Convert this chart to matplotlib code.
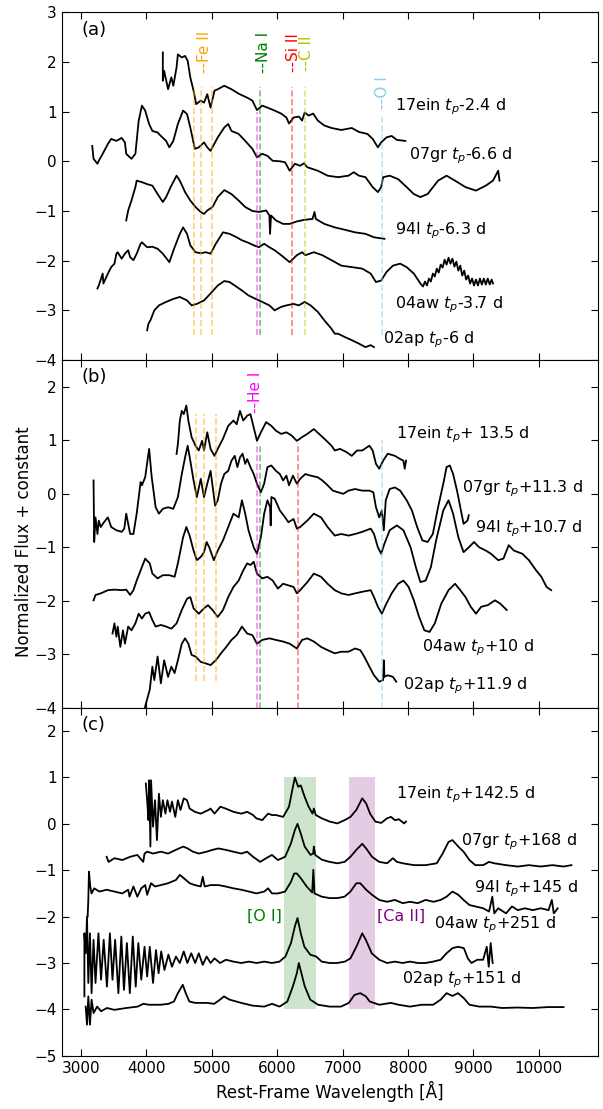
#!/usr/bin/env python3
"""Spectral comparison of SN 2017ein with 07gr, 94I, 04aw and 02ap at three epochs."""

import matplotlib.pyplot as plt

# ---------------- panel (a): pre-maximum ----------------
A_17EIN_WAVE = [4250, 4250, 4270, 4330, 4380, 4410, 4460, 4480, 4540, 4590,
                4630, 4670, 4720, 4760, 4830, 4880, 4930, 4980, 5040, 5090,
                5190, 5300, 5410, 5540, 5620, 5690, 5770, 5850, 5960, 6060,
                6140, 6180, 6250, 6330, 6380, 6420, 6480, 6550, 6620, 6720,
                6830, 6980, 7140, 7250, 7380, 7460, 7540, 7590, 7670, 7750,
                7830, 7960]
A_17EIN_FLUX = [2.19, 1.62, 1.82, 1.45, 1.69, 1.52, 1.89, 2.15, 2.09, 2.12,
                2.02, 1.69, 1.42, 1.15, 1.22, 1.18, 1.35, 1.08, 1.42, 1.45,
                1.52, 1.45, 1.36, 1.28, 1.22, 1.03, 1.12, 1.08, 1.02, 0.96,
                0.88, 0.76, 0.88, 0.90, 0.82, 0.98, 0.92, 0.96, 0.82, 0.72,
                0.67, 0.63, 0.67, 0.59, 0.55, 0.45, 0.28, 0.38, 0.48, 0.51,
                0.43, 0.41]

A_07GR_WAVE = [3170, 3190, 3250, 3270, 3330, 3410, 3460, 3540, 3620, 3670,
               3690, 3770, 3830, 3880, 3930, 3980, 4040, 4090, 4170, 4220,
               4300, 4350, 4410, 4480, 4560, 4620, 4670, 4740, 4800, 4880,
               4930, 4980, 5090, 5190, 5250, 5300, 5410, 5510, 5620, 5690,
               5770, 5850, 5930, 6040, 6120, 6190, 6270, 6350, 6410, 6460,
               6620, 6770, 6930, 7090, 7170, 7250, 7350, 7460, 7540, 7590,
               7620, 7720, 7850, 7980, 8090, 8190, 8300, 8460, 8590, 8720,
               8880, 9040, 9190, 9300, 9380, 9400]
A_07GR_FLUX = [0.31, 0.05, -0.05, 0.01, 0.15, 0.35, 0.45, 0.41, 0.47, 0.38,
               0.15, 0.05, 0.15, 0.81, 1.12, 1.02, 0.75, 0.61, 0.58, 0.51,
               0.41, 0.28, 0.41, 0.75, 1.02, 0.95, 0.68, 0.25, 0.28, 0.38,
               0.28, 0.21, 0.48, 0.68, 0.75, 0.61, 0.55, 0.41, 0.25, 0.08,
               0.15, 0.11, 0.01, 0.00, -0.02, -0.19, -0.05, -0.09, -0.04, -0.12,
               -0.19, -0.29, -0.32, -0.29, -0.22, -0.29, -0.32, -0.52, -0.62, -0.52,
               -0.32, -0.29, -0.36, -0.52, -0.66, -0.72, -0.66, -0.39, -0.29, -0.39,
               -0.52, -0.59, -0.49, -0.39, -0.19, -0.39]

A_94I_WAVE = [3690, 3720, 3770, 3830, 3850, 3930, 4010, 4090, 4170, 4250,
              4300, 4380, 4460, 4510, 4590, 4670, 4750, 4830, 4880, 4930,
              5010, 5090, 5190, 5300, 5410, 5510, 5620, 5720, 5830, 5880,
              5890, 5905, 5980, 6090, 6190, 6300, 6410, 6540, 6570, 6590,
              6720, 6880, 7040, 7190, 7350, 7480, 7640]
A_94I_FLUX = [-1.19, -0.99, -0.79, -0.52, -0.39, -0.42, -0.46, -0.49, -0.66, -0.82,
              -0.72, -0.49, -0.29, -0.39, -0.62, -0.79, -0.92, -1.02, -1.06, -0.99,
              -0.92, -0.72, -0.58, -0.66, -0.79, -0.92, -1.00, -1.02, -0.99, -1.09,
              -1.46, -1.09, -1.19, -1.26, -1.26, -1.21, -1.18, -1.16, -1.02, -1.16,
              -1.26, -1.33, -1.38, -1.43, -1.46, -1.53, -1.56]

A_04AW_WAVE = [3250, 3270, 3330, 3340, 3410, 3460, 3510, 3540, 3560, 3620,
               3670, 3720, 3750, 3800, 3850, 3910, 3930, 4010, 4090, 4170,
               4250, 4350, 4430, 4510, 4560, 4620, 4670, 4750, 4830, 4910,
               4980, 5060, 5170, 5270, 5380, 5460, 5540, 5640, 5720, 5800,
               5880, 5960, 6060, 6190, 6300, 6380, 6430, 6560, 6690, 6830,
               6980, 7140, 7300, 7430, 7510, 7590, 7670, 7770, 7880, 7980,
               8090, 8190, 8230, 8260, 8290, 8320, 8350, 8380, 8410, 8440,
               8470, 8500, 8530, 8560, 8590, 8620, 8650, 8680, 8710, 8740,
               8770, 8800, 8830, 8860, 8890, 8920, 8950, 8980, 9010, 9040,
               9070, 9100, 9130, 9160, 9190, 9220, 9250, 9280, 9300]
A_04AW_FLUX = [-2.56, -2.50, -2.26, -2.46, -2.26, -2.13, -2.06, -1.86, -1.83, -1.96,
               -1.86, -1.79, -1.93, -1.99, -1.86, -1.66, -1.63, -1.73, -1.72, -1.76,
               -1.86, -2.03, -1.73, -1.46, -1.33, -1.46, -1.69, -1.83, -1.85, -1.83,
               -1.86, -1.66, -1.43, -1.46, -1.53, -1.59, -1.63, -1.69, -1.73, -1.66,
               -1.73, -1.79, -1.89, -2.03, -1.89, -1.83, -1.89, -1.83, -1.89, -1.99,
               -2.10, -2.13, -2.16, -2.26, -2.43, -2.40, -2.23, -2.10, -2.06, -2.13,
               -2.26, -2.46, -2.52, -2.42, -2.50, -2.36, -2.42, -2.26, -2.32, -2.16,
               -2.24, -2.08, -2.14, -1.98, -2.08, -1.94, -2.06, -1.96, -2.12, -2.02,
               -2.20, -2.10, -2.30, -2.20, -2.38, -2.30, -2.46, -2.36, -2.50, -2.38,
               -2.50, -2.36, -2.48, -2.36, -2.48, -2.36, -2.48, -2.38, -2.46]

A_02AP_WAVE = [4010, 4030, 4060, 4120, 4190, 4300, 4410, 4510, 4620, 4690,
               4770, 4880, 4980, 5090, 5190, 5270, 5350, 5460, 5560, 5670,
               5770, 5880, 5960, 6060, 6140, 6250, 6330, 6420, 6510, 6620,
               6720, 6830, 6880, 6930, 7040, 7140, 7250, 7350, 7430, 7480]
A_02AP_FLUX = [-3.40, -3.27, -3.20, -3.00, -2.90, -2.83, -2.77, -2.73, -2.80, -2.90,
               -2.87, -2.80, -2.66, -2.50, -2.41, -2.43, -2.50, -2.60, -2.70, -2.77,
               -2.83, -2.90, -3.00, -2.93, -2.90, -2.87, -2.90, -2.83, -2.90, -3.03,
               -3.20, -3.37, -3.47, -3.47, -3.54, -3.60, -3.67, -3.74, -3.70, -3.74]

# ---------------- panel (b): post-maximum ----------------
B_17EIN_WAVE = [4460, 4480, 4510, 4540, 4570, 4610, 4640, 4690, 4750, 4800,
                4850, 4880, 4930, 4980, 5040, 5090, 5170, 5250, 5330, 5380,
                5430, 5480, 5540, 5590, 5640, 5690, 5750, 5830, 5910, 5980,
                6060, 6140, 6220, 6300, 6380, 6460, 6560, 6640, 6720, 6830,
                6880, 6960, 7060, 7140, 7220, 7300, 7410, 7460, 7510, 7560,
                7620, 7690, 7800, 7880, 7930, 7950, 7970]
B_17EIN_FLUX = [0.745, 0.93, 1.37, 1.55, 1.49, 1.65, 1.37, 1.06, 0.90, 0.81,
                0.99, 0.81, 1.15, 0.84, 0.71, 0.84, 1.03, 1.27, 1.37, 1.30,
                1.55, 1.37, 1.46, 1.49, 1.24, 0.99, 1.15, 1.34, 1.27, 1.18,
                1.12, 1.15, 1.09, 0.99, 1.06, 1.12, 1.21, 1.12, 1.03, 0.90,
                0.81, 0.84, 0.78, 0.71, 0.81, 0.81, 0.90, 0.81, 0.56, 0.47,
                0.62, 0.75, 0.71, 0.65, 0.62, 0.47, 0.62]

B_07GR_WAVE = [3190, 3200, 3220, 3250, 3270, 3300, 3350, 3410, 3460, 3540,
               3620, 3660, 3690, 3750, 3800, 3850, 3910, 3930, 3980, 4040,
               4080, 4140, 4190, 4250, 4330, 4410, 4480, 4540, 4590, 4630,
               4670, 4720, 4770, 4830, 4880, 4930, 4980, 5050, 5090, 5140,
               5190, 5250, 5300, 5350, 5390, 5430, 5470, 5510, 5540, 5590,
               5640, 5690, 5750, 5800, 5850, 5910, 5980, 6040, 6090, 6140,
               6180, 6240, 6300, 6350, 6430, 6510, 6620, 6690, 6770, 6850,
               6930, 7010, 7090, 7190, 7300, 7410, 7470, 7510, 7560, 7600,
               7630, 7660, 7720, 7800, 7880, 7980, 8060, 8140, 8220, 8300,
               8380, 8460, 8540, 8590, 8640, 8690, 8750, 8800, 8850, 8910,
               8930]
B_07GR_FLUX = [0.25, -0.90, -0.44, -0.75, -0.50, -0.62, -0.53, -0.44, -0.62, -0.68,
               -0.71, -0.65, -0.37, -0.75, -0.75, -0.37, 0.22, 0.16, 0.31, 0.84,
               0.31, -0.25, -0.37, -0.28, -0.25, -0.28, -0.06, 0.37, 0.68, 0.90,
               0.62, 0.25, -0.06, 0.28, -0.06, 0.19, 0.43, -0.22, -0.12, 0.19,
               0.37, 0.43, 0.62, 0.71, 0.50, 0.68, 0.75, 0.56, 0.65, 0.50,
               0.37, 0.19, 0.03, 0.19, 0.50, 0.53, 0.43, 0.37, 0.25, 0.34,
               0.16, 0.34, 0.19, 0.28, 0.37, 0.34, 0.31, 0.25, 0.16, 0.06,
               0.03, 0.00, 0.06, 0.09, 0.06, 0.06, 0.03, -0.25, -0.44, -0.31,
               -0.68, -0.12, 0.09, 0.12, 0.06, -0.12, -0.31, -0.62, -0.87, -0.90,
               -0.75, -0.25, 0.19, 0.50, 0.53, 0.37, 0.06, -0.25, -0.56, -0.50,
               -0.40]

B_94I_WAVE = [3190, 3220, 3300, 3410, 3510, 3620, 3690, 3750, 3800, 3850,
              3910, 3980, 4050, 4090, 4170, 4250, 4350, 4430, 4480, 4560,
              4610, 4660, 4720, 4770, 4830, 4880, 4920, 4960, 5030, 5090,
              5170, 5250, 5330, 5410, 5460, 5510, 5560, 5640, 5690, 5750,
              5800, 5850, 5890, 5900, 5910, 5960, 6040, 6120, 6170, 6250,
              6300, 6350, 6460, 6560, 6670, 6770, 6880, 6980, 7090, 7190,
              7300, 7430, 7480, 7540, 7590, 7640, 7720, 7830, 7930, 8040,
              8120, 8190, 8270, 8350, 8430, 8540, 8620, 8690, 8770, 8850,
              8930, 9010, 9090, 9190, 9270, 9380, 9460, 9540, 9620, 9750,
              9850, 9960, 10040, 10120, 10190]
B_94I_FLUX = [-1.99, -1.89, -1.86, -1.80, -1.79, -1.80, -1.79, -1.89, -1.80, -1.62,
              -1.43, -1.21, -1.30, -1.49, -1.58, -1.52, -1.52, -1.55, -1.30, -0.81,
              -0.62, -0.78, -1.06, -1.24, -1.18, -1.09, -0.90, -1.00, -1.24, -1.06,
              -0.87, -0.62, -0.37, -0.44, -0.12, -0.37, -0.68, -1.00, -1.12, -0.81,
              -0.37, -0.12, -0.25, -0.59, -0.06, -0.09, -0.31, -0.44, -0.53, -0.47,
              -0.65, -0.62, -0.50, -0.37, -0.44, -0.62, -0.78, -0.75, -0.78, -0.75,
              -0.71, -0.65, -0.75, -1.00, -1.12, -0.93, -0.68, -0.59, -0.68, -1.00,
              -1.37, -1.65, -1.62, -1.37, -0.87, -0.31, -0.12, -0.37, -0.81, -1.09,
              -1.00, -0.90, -1.00, -1.06, -1.12, -1.24, -1.21, -0.96, -1.06, -1.12,
              -1.24, -1.43, -1.55, -1.74, -1.80]

B_04AW_WAVE = [3480, 3510, 3540, 3560, 3600, 3640, 3670, 3720, 3770, 3830,
               3880, 3930, 3980, 4040, 4090, 4140, 4220, 4300, 4380, 4460,
               4540, 4620, 4670, 4720, 4800, 4880, 4940, 5010, 5090, 5170,
               5250, 5330, 5410, 5480, 5540, 5590, 5640, 5690, 5770, 5850,
               5930, 6010, 6090, 6170, 6250, 6300, 6350, 6460, 6560, 6670,
               6770, 6880, 6980, 7090, 7190, 7300, 7430, 7480, 7540, 7600,
               7670, 7750, 7850, 7930, 8010, 8090, 8170, 8250, 8330, 8410,
               8510, 8620, 8720, 8800, 8880, 8960, 9040, 9120, 9220, 9330,
               9410, 9510]
B_04AW_FLUX = [-2.61, -2.42, -2.67, -2.48, -2.86, -2.55, -2.80, -2.48, -2.55, -2.42,
               -2.24, -2.33, -2.24, -2.21, -2.36, -2.48, -2.45, -2.48, -2.52, -2.42,
               -2.17, -1.96, -1.93, -2.14, -2.24, -2.14, -2.08, -2.17, -2.30, -2.17,
               -1.93, -1.74, -1.62, -1.43, -1.30, -1.33, -1.27, -1.49, -1.58, -1.55,
               -1.62, -1.77, -1.68, -1.71, -1.74, -1.86, -1.80, -1.65, -1.49, -1.55,
               -1.68, -1.80, -1.86, -1.89, -1.86, -1.83, -1.80, -1.93, -2.11, -2.24,
               -2.05, -1.86, -1.68, -1.62, -1.74, -1.99, -2.30, -2.55, -2.58, -2.42,
               -2.05, -1.80, -1.68, -1.80, -1.93, -2.11, -2.24, -2.11, -2.08, -1.99,
               -2.05, -2.17]

B_02AP_WAVE = [3950, 3980, 4050, 4090, 4120, 4170, 4220, 4270, 4330, 4380,
               4430, 4480, 4540, 4590, 4640, 4690, 4750, 4830, 4910, 4980,
               5060, 5140, 5220, 5300, 5380, 5460, 5540, 5620, 5690, 5770,
               5880, 5980, 6090, 6190, 6300, 6380, 6460, 6560, 6670, 6770,
               6880, 6980, 7090, 7190, 7270, 7330, 7410, 7480, 7560, 7620,
               7630, 7640, 7690, 7770, 7820]
B_02AP_FLUX = [-4.30, -3.97, -3.66, -3.23, -3.48, -3.04, -3.54, -3.11, -3.42, -3.23,
               -3.35, -3.11, -2.80, -2.70, -2.80, -3.01, -3.04, -3.14, -3.17, -3.20,
               -3.11, -2.98, -2.86, -2.73, -2.64, -2.48, -2.61, -2.64, -2.80, -2.73,
               -2.70, -2.73, -2.76, -2.80, -2.89, -2.73, -2.70, -2.76, -2.86, -2.92,
               -2.98, -2.95, -2.95, -2.89, -2.92, -3.04, -3.23, -3.39, -3.51, -3.48,
               -3.11, -3.42, -3.39, -3.42, -3.51]

# ---------------- panel (c): nebular ----------------
C_17EIN_WAVE = [3990, 4010, 4030, 4040, 4060, 4070, 4100, 4130, 4160, 4190,
                4220, 4250, 4290, 4320, 4360, 4390, 4440, 4480, 4520, 4570,
                4620, 4660, 4740, 4830, 4950, 4980, 5040, 5130, 5210, 5330,
                5450, 5540, 5630, 5680, 5770, 5860, 5920, 5980, 6090, 6180,
                6240, 6270, 6320, 6360, 6420, 6480, 6540, 6560, 6590, 6680,
                6800, 6920, 7030, 7120, 7210, 7300, 7360, 7420, 7500, 7590,
                7680, 7740, 7800, 7860, 7940, 7970]
C_17EIN_FLUX = [0.87, 0.51, 0.08, 0.94, -0.49, 0.94, -0.06, 0.51, -0.35, 0.65,
                0.15, 0.51, 0.22, 0.51, 0.26, 0.48, 0.15, 0.51, 0.30, 0.55,
                0.51, 0.33, 0.26, 0.22, 0.30, 0.33, 0.22, 0.37, 0.33, 0.26,
                0.22, 0.26, 0.19, 0.12, 0.08, 0.22, 0.19, 0.19, 0.15, 0.37,
                0.80, 1.00, 0.80, 0.83, 0.58, 0.37, 0.22, 0.33, 0.19, 0.12,
                0.05, 0.01, 0.08, 0.15, 0.30, 0.55, 0.44, 0.22, 0.05, 0.02,
                0.12, 0.15, 0.08, 0.10, 0.01, 0.05]

C_07GR_WAVE = [3390, 3420, 3510, 3630, 3750, 3860, 3950, 3970, 4010, 4100,
               4220, 4330, 4450, 4560, 4630, 4710, 4800, 4920, 5010, 5100,
               5210, 5330, 5450, 5540, 5630, 5740, 5830, 5920, 6010, 6120,
               6210, 6270, 6310, 6360, 6420, 6510, 6550, 6560, 6580, 6680,
               6800, 6920, 7030, 7120, 7210, 7300, 7360, 7450, 7560, 7680,
               7770, 7830, 7920, 8090, 8270, 8440, 8530, 8620, 8680, 8770,
               8850, 8940, 9030, 9150, 9240, 9320, 9500, 9680, 9850, 10030,
               10210, 10380, 10500]
C_07GR_FLUX = [-0.71, -0.82, -0.74, -0.78, -0.71, -0.67, -0.82, -0.64, -0.60, -0.64,
               -0.60, -0.64, -0.56, -0.49, -0.53, -0.60, -0.64, -0.60, -0.56, -0.53,
               -0.56, -0.60, -0.64, -0.60, -0.71, -0.82, -0.74, -0.67, -0.78, -0.71,
               -0.42, -0.13, 0.00, -0.21, -0.49, -0.67, -0.64, -0.49, -0.67, -0.77,
               -0.82, -0.85, -0.82, -0.71, -0.56, -0.43, -0.53, -0.71, -0.82, -0.85,
               -0.74, -0.82, -0.85, -0.89, -0.89, -0.85, -0.64, -0.39, -0.35, -0.49,
               -0.60, -0.78, -0.89, -0.89, -0.82, -0.85, -0.89, -0.92, -0.89, -0.92,
               -0.89, -0.92, -0.89]

C_94I_WAVE = [3100, 3110, 3120, 3140, 3160, 3200, 3280, 3390, 3510, 3630,
              3720, 3740, 3800, 3860, 3920, 3980, 4010, 4070, 4130, 4220,
              4330, 4450, 4510, 4570, 4660, 4740, 4830, 4860, 4890, 4980,
              5100, 5210, 5330, 5450, 5570, 5680, 5800, 5860, 5920, 6010,
              6120, 6210, 6260, 6300, 6360, 6450, 6535, 6552, 6570, 6680,
              6800, 6920, 7030, 7120, 7210, 7270, 7360, 7450, 7560, 7680,
              7800, 7920, 8030, 8150, 8270, 8390, 8500, 8590, 8680, 8770,
              8850, 8940, 9030, 9150, 9240, 9290, 9320, 9380, 9500, 9590,
              9680, 9790, 9910, 10030, 10150, 10200, 10230, 10290]
C_94I_FLUX = [-2.00, -1.64, -1.03, -1.35, -1.50, -1.39, -1.46, -1.42, -1.46, -1.50,
              -1.42, -1.57, -1.35, -1.57, -1.39, -1.32, -1.53, -1.28, -1.35, -1.32,
              -1.28, -1.21, -1.10, -1.17, -1.28, -1.32, -1.35, -1.14, -1.35, -1.32,
              -1.32, -1.35, -1.39, -1.42, -1.46, -1.50, -1.46, -1.39, -1.50, -1.50,
              -1.46, -1.25, -1.07, -1.07, -1.17, -1.35, -1.48, -0.99, -1.50, -1.57,
              -1.60, -1.60, -1.57, -1.46, -1.28, -1.28, -1.42, -1.53, -1.64, -1.68,
              -1.64, -1.71, -1.68, -1.71, -1.64, -1.68, -1.64, -1.57, -1.46, -1.53,
              -1.64, -1.75, -1.78, -1.82, -1.89, -1.57, -1.93, -1.82, -1.93, -1.78,
              -1.86, -1.82, -1.86, -1.82, -1.86, -1.64, -1.93, -1.82]

C_04AW_WAVE = [3050, 3050, 3070, 3090, 3110, 3135, 3160, 3190, 3220, 3265,
               3305, 3345, 3395, 3440, 3480, 3520, 3570, 3615, 3655, 3700,
               3745, 3790, 3835, 3875, 3920, 3970, 4010, 4050, 4100, 4145,
               4185, 4225, 4275, 4335, 4390, 4450, 4510, 4570, 4625, 4685,
               4745, 4800, 4860, 4920, 4980, 5040, 5125, 5215, 5330, 5450,
               5565, 5685, 5800, 5920, 6035, 6125, 6210, 6270, 6310, 6360,
               6415, 6505, 6595, 6680, 6800, 6915, 7035, 7120, 7210, 7300,
               7355, 7445, 7560, 7680, 7800, 7915, 8030, 8150, 8265, 8385,
               8500, 8590, 8680, 8765, 8855, 8915, 8970, 9060, 9150, 9205,
               9235, 9265, 9295]
C_04AW_FLUX = [-3.72, -2.36, -2.79, -2.00, -3.43, -2.36, -3.65, -2.50, -3.43, -2.36,
               -3.36, -2.50, -3.51, -2.36, -3.36, -2.50, -3.65, -2.43, -3.58, -2.57,
               -3.65, -2.43, -3.51, -2.57, -3.36, -2.65, -3.29, -2.65, -3.43, -2.72,
               -3.22, -2.75, -3.15, -2.82, -3.08, -2.86, -3.00, -2.75, -3.00, -2.79,
               -3.00, -2.79, -3.04, -2.86, -3.00, -2.90, -3.00, -2.93, -2.97, -3.00,
               -2.97, -3.00, -2.97, -3.00, -2.97, -2.86, -2.57, -2.21, -2.03, -2.36,
               -2.65, -2.82, -2.86, -2.97, -3.00, -3.00, -2.97, -2.90, -2.65, -2.36,
               -2.50, -2.79, -2.93, -3.00, -2.97, -3.00, -2.97, -3.00, -3.00, -2.97,
               -2.93, -2.79, -2.68, -2.65, -2.68, -2.90, -3.00, -2.93, -2.93, -2.65,
               -3.08, -2.57, -3.00]

C_02AP_WAVE = [3070, 3090, 3110, 3135, 3160, 3190, 3245, 3305, 3395, 3510,
               3690, 3865, 3950, 4040, 4215, 4335, 4420, 4480, 4555, 4600,
               4655, 4745, 4920, 5035, 5125, 5185, 5270, 5450, 5625, 5800,
               5920, 6035, 6155, 6240, 6300, 6330, 6375, 6420, 6505, 6625,
               6800, 6975, 7095, 7180, 7270, 7355, 7415, 7560, 7740, 7855,
               8030, 8210, 8385, 8500, 8590, 8680, 8765, 8855, 8940, 9090,
               9265, 9440, 9675, 9910, 10145, 10380]
C_02AP_FLUX = [-3.94, -4.33, -3.72, -4.33, -3.79, -4.08, -3.94, -4.04, -3.97, -4.01,
               -3.97, -3.94, -3.88, -3.90, -3.90, -3.88, -3.83, -3.65, -3.47, -3.65,
               -3.83, -3.86, -3.86, -3.88, -3.79, -3.72, -3.79, -3.86, -3.92, -3.94,
               -3.88, -3.94, -3.83, -3.50, -3.22, -3.00, -3.25, -3.50, -3.79, -3.90,
               -3.94, -3.94, -3.86, -3.69, -3.65, -3.72, -3.83, -3.90, -3.86, -3.90,
               -3.94, -3.90, -3.90, -3.79, -3.65, -3.71, -3.65, -3.76, -3.90, -3.94,
               -3.94, -3.97, -3.96, -3.97, -3.95, -3.95]

# line identifications (rest-frame wavelength of the absorption minima, Å)
FE_II_A = [4730, 4830, 5000]
FE_II_B = [4755, 4880, 5060]
HE_I_WAVE = 5690
NA_I_A, NA_I_B = 5730, 5735
SI_II_A, SI_II_B = 6220, 6310
C_II_A = 6420
O_I_WAVE = 7605

O_I_BAND = (6100, 6600)
CA_II_BAND = (7100, 7500)


def draw(ax, spectra):
    for wave, flux, label, lx, ly in spectra:
        ax.plot(wave, flux, color="black", linewidth=1.3)
        ax.text(lx, ly, label, fontsize=11.5, ha="left", va="center")


def main():
    fig, axes = plt.subplots(3, 1, figsize=(6.03, 11.09), dpi=100, sharex=True)
    fig.subplots_adjust(left=0.102, right=0.991, top=0.989, bottom=0.048, hspace=0)
    ax_a, ax_b, ax_c = axes

    # --- (a) ---
    draw(ax_a, [
        (A_17EIN_WAVE, A_17EIN_FLUX, "17ein $t_p$-2.4 d", 7800, 1.10),
        (A_07GR_WAVE, A_07GR_FLUX, "07gr $t_p$-6.6 d", 8010, 0.11),
        (A_94I_WAVE, A_94I_FLUX, "94I $t_p$-6.3 d", 7800, -1.39),
        (A_04AW_WAVE, A_04AW_FLUX, "04aw $t_p$-3.7 d", 7800, -2.88),
        (A_02AP_WAVE, A_02AP_FLUX, "02ap $t_p$-6 d", 7615, -3.59),
    ])
    kw = dict(linestyles="dashed", alpha=0.5, linewidth=1.2)
    ax_a.vlines(FE_II_A, -3.5, 1.5, colors="orange", **kw)
    ax_a.vlines(HE_I_WAVE, -3.5, 1.0, colors="magenta", **kw)
    ax_a.vlines(NA_I_A, -3.5, 1.5, colors="green", **kw)
    ax_a.vlines(SI_II_A, -3.5, 1.5, colors="red", **kw)
    ax_a.vlines(C_II_A, -3.5, 1.5, colors="y", **kw)
    ax_a.vlines(O_I_WAVE, -3.5, 0.95, colors="skyblue", **kw)
    tkw = dict(rotation=90, ha="center", va="bottom", fontsize=11)
    ax_a.text(4890, 1.78, "--Fe II", color="orange", **tkw)
    ax_a.text(5785, 1.77, "--Na I", color="green", **tkw)
    ax_a.text(6245, 1.79, "--Si II", color="red", **tkw)
    ax_a.text(6450, 1.82, "--C II", color="y", **tkw)
    ax_a.text(7610, 1.05, "--O I", color="skyblue", **tkw)
    ax_a.set_ylim(-4, 3)
    ax_a.set_yticks(range(-4, 4))

    # --- (b) ---
    draw(ax_b, [
        (B_17EIN_WAVE, B_17EIN_FLUX, "17ein $t_p$+ 13.5 d", 7815, 1.11),
        (B_07GR_WAVE, B_07GR_FLUX, "07gr $t_p$+11.3 d", 8826, 0.09),
        (B_94I_WAVE, B_94I_FLUX, "94I $t_p$+10.7 d", 9020, -0.65),
        (B_04AW_WAVE, B_04AW_FLUX, "04aw $t_p$+10 d", 8220, -2.87),
        (B_02AP_WAVE, B_02AP_FLUX, "02ap $t_p$+11.9 d", 7920, -3.59),
    ])
    ax_b.vlines(FE_II_B, -3.5, 1.5, colors="orange", **kw)
    ax_b.vlines(HE_I_WAVE, -4.5, 0.95, colors="magenta", **kw)
    ax_b.vlines(NA_I_B, -4.5, 0.9, colors="green", **kw)
    ax_b.vlines(SI_II_B, -4.5, 0.95, colors="red", **kw)
    ax_b.vlines(O_I_WAVE, -4.5, 1.0, colors="skyblue", **kw)
    ax_b.text(5672, 1.51, "--He I", color="magenta", **tkw)
    ax_b.set_ylim(-4, 2.5)
    ax_b.set_yticks(range(-4, 3))

    # --- (c) ---
    ax_c.fill_between(O_I_BAND, -4, 1, color="green", alpha=0.2, linewidth=0)
    ax_c.fill_between(CA_II_BAND, -4, 1, color="purple", alpha=0.2, linewidth=0)
    draw(ax_c, [
        (C_17EIN_WAVE, C_17EIN_FLUX, "17ein $t_p$+142.5 d", 7809, 0.62),
        (C_07GR_WAVE, C_07GR_FLUX, "07gr $t_p$+168 d", 8813, -0.39),
        (C_94I_WAVE, C_94I_FLUX, "94I $t_p$+145 d", 9013, -1.39),
        (C_04AW_WAVE, C_04AW_FLUX, "04aw $t_p$+251 d", 8402, -2.18),
        (C_02AP_WAVE, C_02AP_FLUX, "02ap $t_p$+151 d", 7915, -3.36),
    ])
    ax_c.text(5800, -2.0, "[O I]", color="green", fontsize=11.5, ha="center", va="center")
    ax_c.text(7900, -2.0, "[Ca II]", color="purple", fontsize=11.5, ha="center", va="center")
    ax_c.set_ylim(-5, 2.5)
    ax_c.set_yticks(range(-5, 3))
    ax_c.set_xlim(2700, 10900)
    ax_c.set_xticks(range(3000, 10001, 1000))
    ax_c.set_xlabel("Rest-Frame Wavelength [Å]", fontsize=12)

    for ax, tag in zip(axes, ["(a)", "(b)", "(c)"]):
        ax.text(0.038, 0.95, tag, transform=ax.transAxes, fontsize=13,
                ha="left", va="center")
        ax.tick_params(direction="in", top=True, right=True, labelsize=11,
                       length=5)

    fig.text(0.04, 0.512, "Normalized Flux + constant", rotation=90,
             ha="center", va="center", fontsize=12)

    plt.savefig("out.png", dpi=100)


if __name__ == "__main__":
    main()
